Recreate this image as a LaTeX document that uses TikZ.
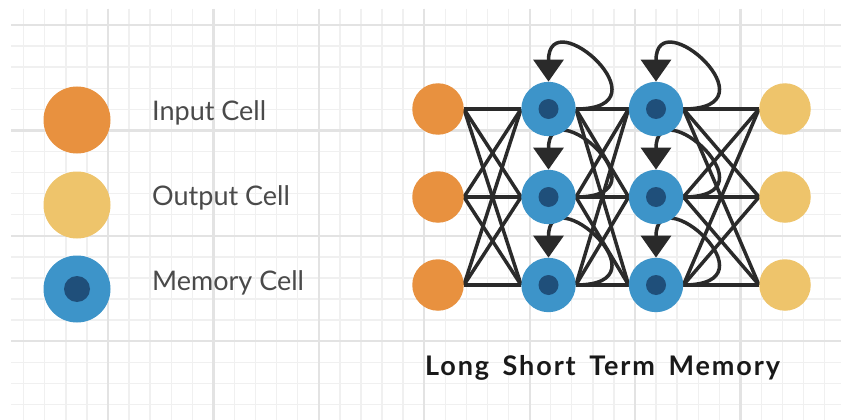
\documentclass[tikz,border=0pt]{standalone}
\usepackage{fontspec}
\setmainfont{Lato}
\newfontfamily\titlefont{Lato}[LetterSpace=7,WordSpace=1.6]
\usetikzlibrary{arrows.meta}

\definecolor{inorange}{HTML}{E8913F}
\definecolor{outyellow}{HTML}{EEC46B}
\definecolor{memblue}{HTML}{3D94C9}
\definecolor{memdark}{HTML}{1F4F7A}
\definecolor{wire}{HTML}{2A2A2A}
\definecolor{keygray}{HTML}{4A4A4A}
\definecolor{gridminor}{HTML}{F0F0F0}
\definecolor{gridmajor}{HTML}{E3E3E3}

\pgfdeclarelayer{grid}
\pgfdeclarelayer{wires}
\pgfsetlayers{grid,wires,main}

\begin{document}
\begin{tikzpicture}
  [x=1pt,y=-1pt,
   incell/.style={circle,fill=inorange,inner sep=0pt,minimum size=51.5pt},
   outcell/.style={circle,fill=outyellow,inner sep=0pt,minimum size=51.5pt},
   memcell/.style={circle,fill=memblue,inner sep=0pt,minimum size=54.4pt,
     path picture={\fill[memdark] (path picture bounding box.center) circle (10pt);}},
   keymem/.style={memcell,minimum size=67pt,
     path picture={\fill[memdark] (path picture bounding box.center) circle (13pt);}},
   keytext/.style={anchor=base west,inner sep=0pt,text=keygray,font=\fontsize{27}{30}\selectfont},
   conn/.style={draw=wire,line width=3.5pt},
   selfloop/.style={conn,-{Triangle[width=30pt,length=22pt]}}]
  \useasboundingbox (0,0) rectangle (841,420);

  % background grid
  \begin{pgfonlayer}{grid}
    \fill[white] (0,0) rectangle (841,420);
    \foreach \k in {0,...,38}
      \draw[gridminor,line width=1.4pt] ({23.7+21.08*\k},9) -- ({23.7+21.08*\k},420);
    \foreach \k in {0,...,18}
      \draw[gridminor,line width=1.4pt] (11,{25+21.08*\k}) -- (841,{25+21.08*\k});
    \foreach \k in {0,...,6}
      \draw[gridmajor,line width=2.2pt] ({108+105.4*\k},9) -- ({108+105.4*\k},420);
    \foreach \k in {0,...,3}
      \draw[gridmajor,line width=2.2pt] (11,{25+105.4*\k}) -- (841,{25+105.4*\k});
  \end{pgfonlayer}

  % legend
  \node[incell,minimum size=67pt] (keyin) at (77,120) {};
  \node[outcell,minimum size=67pt] (keyout) at (77,205) {};
  \node[keymem] (keymem) at (77,289) {};
  \node[keytext] (keyintext) at (152,120.5) {Input Cell};
  \node[keytext] (keyouttext) at (152,205) {Output Cell};
  \node[keytext] (keymemtext) at (152,290) {Memory Cell};

  % network
  \node[incell] (i1) at (438,109) {};
  \node[incell] (i2) at (438,197) {};
  \node[incell] (i3) at (438,285) {};
  \node[memcell] (p1) at (548.5,109) {};
  \node[memcell] (p2) at (548.5,197) {};
  \node[memcell] (p3) at (548.5,285) {};
  \node[memcell] (q1) at (656,109) {};
  \node[memcell] (q2) at (656,197) {};
  \node[memcell] (q3) at (656,285) {};
  \node[outcell] (o1) at (785,109) {};
  \node[outcell] (o2) at (785,197) {};
  \node[outcell] (o3) at (785,285) {};

  \begin{pgfonlayer}{wires}
  \foreach \a in {1,2,3}
    \foreach \b in {1,2,3} {
      \draw[conn] (i\a.east) -- (p\b.west);
      \draw[conn] (p\a.east) -- (q\b.west);
      \draw[conn] (q\a.east) -- (o\b.west);
    }
  \foreach \c in {p1,p2,p3,q1,q2,q3}
    \draw[selfloop] (\c.east) .. controls +(95,0) and +(0,-82) .. (\c.north);
  \end{pgfonlayer}

  \node[anchor=base west,inner sep=0pt,text=black!90,
    font=\fontsize{27}{30}\titlefont\bfseries] (title) at (425,375) {Long Short Term Memory};
\end{tikzpicture}
\end{document}
